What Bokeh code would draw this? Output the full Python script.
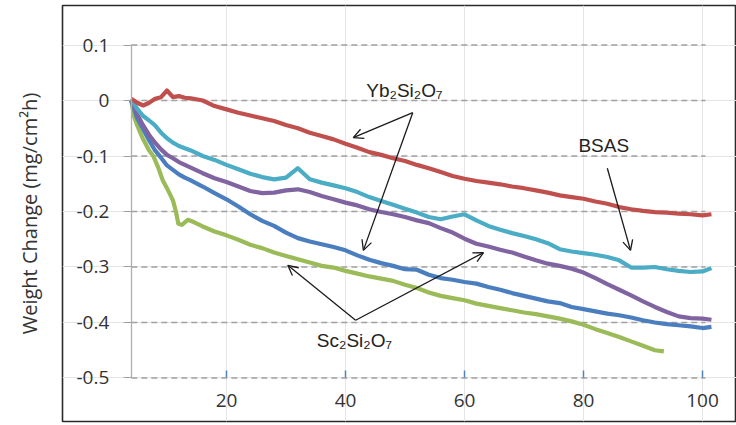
from bokeh.plotting import figure
from bokeh.models import Range1d, LinearAxis, FixedTicker, Arrow, OpenHead, ColumnDataSource
from bokeh.core.properties import value
from bokeh.embed import file_html
from bokeh.resources import INLINE

# ---------------- data ----------------
t = [4, 5, 6, 7, 8, 9, 10, 11, 12, 13, 14, 16, 18, 20, 22, 24, 26, 28, 30, 32, 34, 36, 38,
     40, 42, 44, 46, 48, 50, 52, 54, 56, 58, 60, 62, 64, 66, 68, 70, 72, 74, 76, 78, 80,
     82, 84, 86, 88, 90, 92, 94, 96, 98, 100, 101.5]

yb_red = [0.003, -0.004, -0.009, -0.004, 0.003, 0.006, 0.018, 0.006, 0.008, 0.005, 0.004,
          0.000, -0.010, -0.016, -0.022, -0.027, -0.032, -0.037, -0.044, -0.050, -0.058,
          -0.064, -0.070, -0.078, -0.085, -0.093, -0.098, -0.104, -0.109, -0.116, -0.122,
          -0.129, -0.136, -0.141, -0.145, -0.148, -0.151, -0.155, -0.158, -0.162, -0.166,
          -0.171, -0.174, -0.177, -0.182, -0.186, -0.192, -0.196, -0.199, -0.201, -0.202,
          -0.204, -0.205, -0.207, -0.205]

bsas_cyan = [0.003, -0.015, -0.028, -0.036, -0.045, -0.058, -0.068, -0.076, -0.082, -0.086,
             -0.090, -0.100, -0.107, -0.116, -0.124, -0.132, -0.138, -0.142, -0.139, -0.122,
             -0.142, -0.148, -0.153, -0.158, -0.165, -0.174, -0.181, -0.188, -0.195, -0.202,
             -0.210, -0.214, -0.209, -0.205, -0.216, -0.226, -0.233, -0.239, -0.244, -0.250,
             -0.257, -0.268, -0.272, -0.275, -0.278, -0.282, -0.288, -0.301, -0.301, -0.300,
             -0.304, -0.307, -0.309, -0.308, -0.302]

sc_purple = [0.000, -0.025, -0.045, -0.062, -0.076, -0.088, -0.098, -0.104, -0.111, -0.116,
             -0.121, -0.131, -0.140, -0.147, -0.155, -0.163, -0.167, -0.166, -0.162, -0.160,
             -0.165, -0.172, -0.178, -0.184, -0.189, -0.196, -0.201, -0.205, -0.210, -0.216,
             -0.221, -0.230, -0.238, -0.249, -0.258, -0.263, -0.269, -0.274, -0.281, -0.288,
             -0.294, -0.298, -0.303, -0.310, -0.320, -0.331, -0.341, -0.351, -0.362, -0.372,
             -0.381, -0.389, -0.392, -0.393, -0.395]

yb_blue = [0.000, -0.032, -0.052, -0.072, -0.090, -0.103, -0.117, -0.125, -0.133, -0.139,
           -0.144, -0.155, -0.167, -0.178, -0.191, -0.205, -0.217, -0.226, -0.238, -0.248,
           -0.254, -0.259, -0.264, -0.270, -0.279, -0.287, -0.293, -0.298, -0.304, -0.305,
           -0.314, -0.320, -0.323, -0.327, -0.330, -0.336, -0.341, -0.347, -0.352, -0.357,
           -0.362, -0.365, -0.372, -0.376, -0.380, -0.384, -0.387, -0.391, -0.396, -0.400,
           -0.403, -0.405, -0.407, -0.410, -0.408]

t_green = [4, 4.5, 5, 6, 7, 7.7, 8.5, 9.3, 10, 11, 11.5, 11.9, 12.5, 13.5, 14.5, 16, 18, 20,
           22, 24, 26, 28, 30, 32, 34, 36, 38, 40, 42, 44, 46, 48, 50, 52, 54, 56, 58, 60,
           62, 64, 66, 68, 70, 72, 74, 76, 78, 80, 82, 84, 86, 88, 90, 92, 93.5]
sc_green = [0.000, -0.030, -0.045, -0.070, -0.090, -0.100, -0.120, -0.144, -0.158, -0.180,
            -0.200, -0.222, -0.224, -0.215, -0.219, -0.227, -0.236, -0.243, -0.251, -0.260,
            -0.266, -0.274, -0.280, -0.286, -0.292, -0.298, -0.301, -0.307, -0.312, -0.317,
            -0.321, -0.325, -0.332, -0.338, -0.346, -0.352, -0.356, -0.360, -0.366, -0.370,
            -0.374, -0.378, -0.382, -0.385, -0.389, -0.393, -0.398, -0.404, -0.412, -0.419,
            -0.426, -0.434, -0.442, -0.450, -0.452]

x_ticks = [20, 40, 60, 80, 100]
x_tick_labels = ["20", "40", "60", "80", "100"]
y_ticks = [-0.5, -0.4, -0.3, -0.2, -0.1, 0, 0.1]
y_tick_labels = ["-0.5", "-0.4", "-0.3", "-0.2", "-0.1", "0", "0.1"]
y_label = "Weight Change (mg/cm\u00b2h)"

note_text = ["Yb\u2082Si\u2082O\u2087", "BSAS", "Sc\u2082Si\u2082O\u2087"]
note_x = [49.9, 83.4, 41.5]
note_y = [0.018, -0.081, -0.432]

# arrows: (x_start, y_start, x_end, y_end)
arrow_x0 = [51.3, 51.3, 41.7, 41.7, 84.0]
arrow_y0 = [-0.022, -0.022, -0.396, -0.396, -0.122]
arrow_x1 = [41.3, 43.0, 30.3, 63.2, 87.9]
arrow_y1 = [-0.067, -0.270, -0.297, -0.274, -0.270]

# plot-area limits of the original chart
x_min, x_max = 4, 100.5
y_min, y_max = -0.5, 0.1

# ---------------- figure ----------------
p = figure(width=736, height=425, output_backend="svg", toolbar_location=None,
           x_range=Range1d(-7.56, 105.71), y_range=Range1d(-0.5784, 0.1712),
           x_axis_location=None, y_axis_location=None,
           min_border_left=62, min_border_right=0, min_border_top=5, min_border_bottom=4)
p.background_fill_color = "white"
p.border_fill_color = "white"
p.outline_line_color = "#2b2b2b"
p.outline_line_width = 1.6

# dashed gridlines spanning the plot area only
p.segment(x0=[x_min] * len(y_ticks), x1=[x_max] * len(y_ticks), y0=y_ticks, y1=y_ticks,
          line_color="#a0a0a0", line_width=1.4, line_dash="6 4")

GRAY = "#333333"
# y axis inside the box
yax = LinearAxis(fixed_location=x_min, ticker=FixedTicker(ticks=y_ticks), bounds=(y_min, y_max))
yax.major_label_overrides = {v: s for v, s in zip(y_ticks, y_tick_labels)}
yax.axis_line_color = "#b0b0b0"
yax.axis_line_width = 1.3
yax.major_tick_line_color = "#a0a0a0"
yax.major_tick_out = 8
yax.major_tick_in = 0
yax.minor_tick_line_color = None
yax.major_label_standoff = 14
yax.major_label_text_font = "Open Sans"
yax.major_label_text_font_size = "19px"
yax.major_label_text_color = GRAY
p.add_layout(yax, "left")

# x axis inside the box
xax = LinearAxis(fixed_location=y_min, ticker=FixedTicker(ticks=x_ticks), bounds=(x_min, x_max))
xax.major_label_overrides = {v: s for v, s in zip(x_ticks, x_tick_labels)}
xax.axis_line_color = None
xax.major_tick_line_color = "#4f81bd"
xax.major_tick_line_width = 1.5
xax.major_tick_in = 7
xax.major_tick_out = 0
xax.minor_tick_line_color = None
xax.major_label_standoff = 16
xax.major_label_text_font = "Open Sans"
xax.major_label_text_font_size = "19px"
xax.major_label_text_color = GRAY
p.add_layout(xax, "below")

# axis that only carries the title, outside the box
lab = LinearAxis(ticker=FixedTicker(ticks=[]), axis_label=y_label)
lab.axis_line_color = None
lab.major_tick_line_color = None
lab.minor_tick_line_color = None
lab.major_label_text_font_size = "0px"
lab.major_label_standoff = 0
lab.axis_label_standoff = 20
lab.axis_label_text_font = "Open Sans"
lab.axis_label_text_font_style = "normal"
lab.axis_label_text_font_size = "20px"
lab.axis_label_text_color = GRAY
p.add_layout(lab, "left")

# series
LW = 4.2
p.line(t_green, sc_green, line_color="#9bbb59", line_width=LW, line_join="round")
p.line(t, yb_blue, line_color="#4a7ebf", line_width=LW, line_join="round")
p.line(t, sc_purple, line_color="#8064a2", line_width=LW, line_join="round")
p.line(t, bsas_cyan, line_color="#4bacc6", line_width=LW, line_join="round")
p.line(t, yb_red, line_color="#c0504d", line_width=LW, line_join="round")

# arrows
for xs, ys, xe, ye in zip(arrow_x0, arrow_y0, arrow_x1, arrow_y1):
    p.add_layout(Arrow(end=OpenHead(size=10, line_color="#1a1a1a", line_width=1.3),
                       x_start=xs, y_start=ys, x_end=xe, y_end=ye,
                       line_color="#1a1a1a", line_width=1.3))

# annotation texts
src = ColumnDataSource(dict(x=note_x, y=note_y, text=note_text))
p.text(x="x", y="y", text="text", source=src, text_font=value("Liberation Sans"),
       text_font_size="19px", text_align="center", text_baseline="middle", text_color="#222222")

open("out.html", "w").write(file_html(p, INLINE))
